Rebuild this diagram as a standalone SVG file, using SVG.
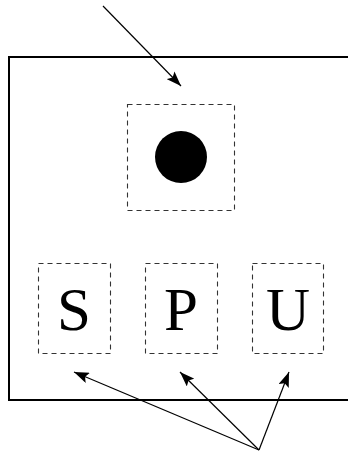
<svg xmlns="http://www.w3.org/2000/svg" width="348" height="452" viewBox="0 0 348 452">
<style>
.box{fill:none;stroke:#333;stroke-width:1.1;stroke-dasharray:5,4}
.lbl{font-family:"Liberation Serif",serif;font-size:61px;fill:#000;text-anchor:middle}
.con{stroke:#000;stroke-width:1.2;fill:none;marker-end:url(#ah)}
</style>
<defs>
<marker id="ah" viewBox="0 0 15 11" refX="15" refY="5.5" markerWidth="15" markerHeight="11" markerUnits="userSpaceOnUse" orient="auto">
<path d="M0,0 L15,5.5 L0,11 L3,5.5 Z" fill="#000"/>
</marker>
</defs>
<rect width="348" height="452" fill="#fff"/>
<g id="frame"><path d="M350,57 H9 V400 H350" fill="none" stroke="#000" stroke-width="2"/></g>
<g id="dot"><rect class="box" x="127.5" y="104.5" width="107" height="106"/><circle cx="181" cy="157" r="26" fill="#000"/></g>
<g id="S"><rect class="box" x="38.5" y="263.5" width="72" height="90"/><text class="lbl" x="74" y="330">S</text></g>
<g id="P"><rect class="box" x="145.5" y="263.5" width="72" height="90"/><text class="lbl" x="181" y="330">P</text></g>
<g id="U"><rect class="box" x="252.5" y="263.5" width="71" height="90"/><text class="lbl" x="288" y="330">U</text></g>
<g id="connectors">
<line class="con" x1="103" y1="6" x2="181" y2="86"/>
<line class="con" x1="259" y1="450" x2="74" y2="372"/>
<line class="con" x1="259" y1="450" x2="180" y2="372"/>
<line class="con" x1="259" y1="450" x2="289" y2="372"/>
</g>
</svg>
